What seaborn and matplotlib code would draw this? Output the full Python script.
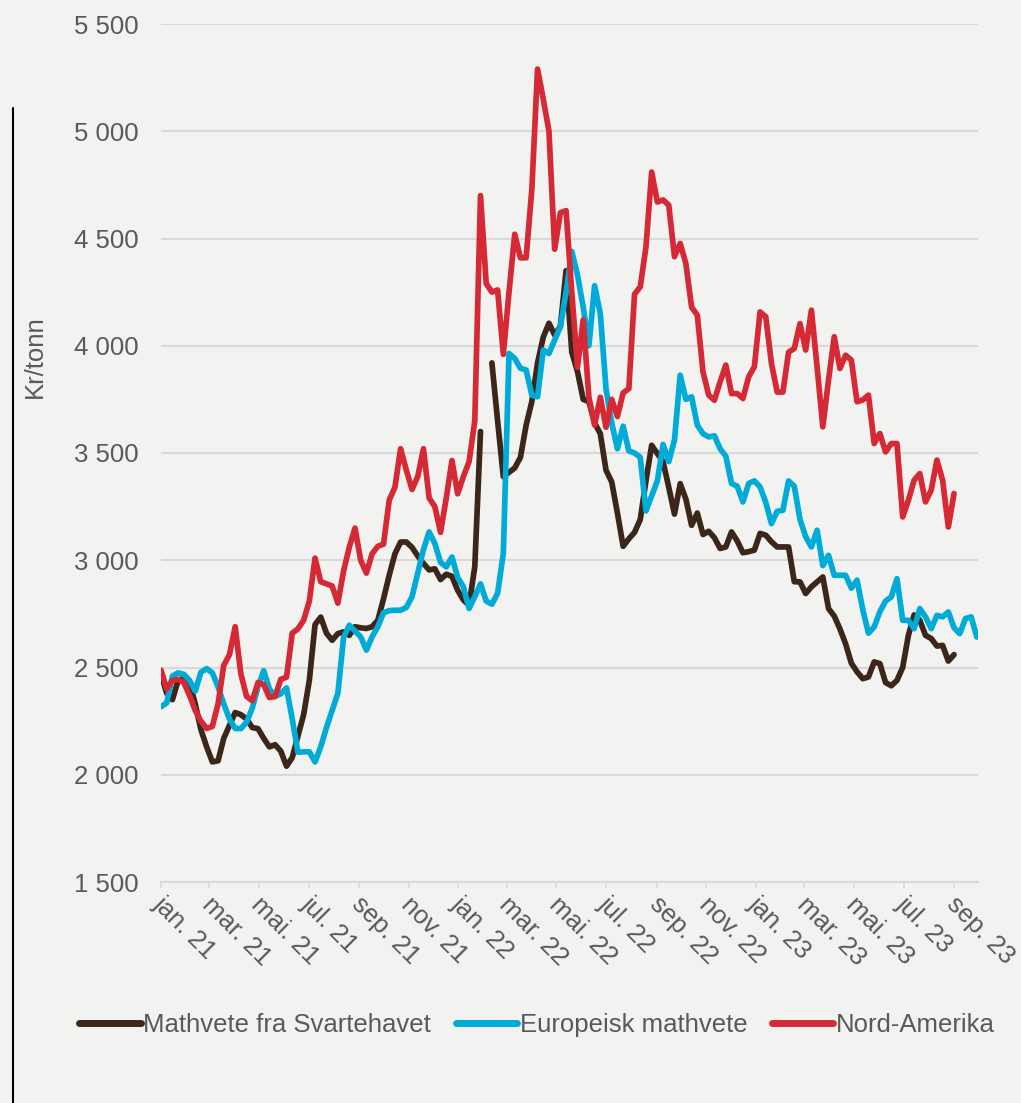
import numpy as np
import pandas as pd
import matplotlib
matplotlib.use("Agg")
import matplotlib.pyplot as plt
import matplotlib.transforms as mtransforms
from matplotlib.lines import Line2D
import seaborn as sns

# === Data: ukentlige priser, kr/tonn (jan. 2021 - sep. 2023) ===
nan = np.nan
uker = pd.date_range("2021-01-01", periods=144, freq="7D")

svartehavet = [
    2470, 2380, 2350, 2440, 2450, 2430, 2330, 2210, 2130, 2060,
    2065, 2170, 2230, 2290, 2280, 2260, 2220, 2215, 2170, 2130,
    2140, 2110, 2040, 2080, 2180, 2280, 2440, 2700, 2735, 2660,
    2627, 2658, 2666, 2650, 2690, 2685, 2682, 2690, 2720, 2820,
    2930, 3030, 3085, 3085, 3060, 3020, 2985, 2955, 2960, 2910,
    2935, 2925, 2860, 2815, 2790, 2970, 3600, nan, 3920, 3650,
    3390, 3410, 3430, 3480, 3630, 3740, 3920, 4040, 4105, 4050,
    4090, 4350, 3970, 3880, 3750, 3740, 3640, 3590, 3420, 3365,
    3220, 3065, 3100, 3130, 3190, 3370, 3536, 3497, 3460, 3340,
    3215, 3357, 3285, 3163, 3220, 3120, 3135, 3105, 3055, 3062,
    3132, 3090, 3035, 3040, 3047, 3125, 3117, 3086, 3062, 3062,
    3062, 2900, 2899, 2845, 2876, 2899, 2922, 2775, 2740, 2680,
    2610, 2520, 2480, 2448, 2456, 2526, 2518, 2430, 2415, 2440,
    2500, 2650, 2745, 2720, 2650, 2635, 2600, 2603, 2530, 2560,
    nan, nan, nan, nan,
]

europeisk = [
    2317, 2335, 2460, 2475, 2468, 2440, 2390, 2478, 2495, 2475,
    2410, 2330, 2260, 2216, 2215, 2245, 2310, 2410, 2485, 2400,
    2365, 2378, 2405, 2260, 2105, 2107, 2107, 2060, 2130, 2220,
    2300, 2380, 2640, 2697, 2670, 2643, 2581, 2643, 2690, 2755,
    2765, 2767, 2767, 2780, 2830, 2940, 3050, 3132, 3078, 2990,
    2969, 3015, 2920, 2876, 2775, 2830, 2890, 2810, 2795, 2846,
    3032, 3964, 3941, 3895, 3887, 3770, 3762, 3980, 3964, 4027,
    4089, 4250, 4440, 4330, 4180, 4000, 4280, 4150, 3800, 3640,
    3520, 3625, 3510, 3500, 3480, 3230, 3300, 3370, 3540, 3460,
    3560, 3863, 3750, 3762, 3630, 3590, 3575, 3580, 3520, 3485,
    3358, 3345, 3272, 3358, 3370, 3342, 3270, 3171, 3228, 3233,
    3370, 3345, 3190, 3110, 3062, 3140, 2975, 3023, 2930, 2930,
    2930, 2870, 2907, 2770, 2660, 2689, 2760, 2810, 2829, 2914,
    2720, 2720, 2681, 2775, 2736, 2681, 2743, 2736, 2759, 2685,
    2658, 2728, 2736, 2642,
]

nord_amerika = [
    2488, 2400, 2440, 2445, 2430, 2370, 2300, 2250, 2216, 2225,
    2330, 2510, 2560, 2690, 2470, 2365, 2345, 2430, 2420, 2360,
    2365, 2445, 2455, 2660, 2680, 2720, 2810, 3010, 2900, 2890,
    2880, 2800, 2950, 3060, 3150, 3000, 2940, 3030, 3065, 3075,
    3280, 3340, 3520, 3420, 3330, 3390, 3520, 3290, 3250, 3130,
    3290, 3465, 3310, 3390, 3460, 3650, 4700, 4290, 4250, 4260,
    3960, 4250, 4520, 4410, 4410, 4730, 5290, 5150, 5000, 4450,
    4620, 4630, 4250, 3900, 4120, 3760, 3630, 3760, 3620, 3750,
    3670, 3780, 3800, 4240, 4275, 4460, 4810, 4670, 4680, 4655,
    4415, 4477, 4383, 4180, 4143, 3878, 3770, 3746, 3832, 3910,
    3777, 3777, 3754, 3855, 3902, 4158, 4135, 3917, 3784, 3784,
    3970, 3987, 4103, 3980, 4166, 3900, 3622, 3840, 4042, 3894,
    3956, 3933, 3739, 3747, 3770, 3544, 3591, 3505, 3544, 3544,
    3202, 3280, 3373, 3404, 3272, 3327, 3467, 3373, 3155, 3311,
    nan, nan, nan, nan,
]

serier = ["Mathvete fra Svartehavet", "Europeisk mathvete", "Nord-Amerika"]
farger = {"Mathvete fra Svartehavet": "#3b2619",
          "Europeisk mathvete": "#00acd7",
          "Nord-Amerika": "#d52a35"}

tekstfarge = "#595959"
bakgrunn = "#f2f2f0"
fs = 18.5

# === Lang tabell, med egne segmenter der data mangler ===
rammer = []
for navn, verdier in zip(serier, [svartehavet, europeisk, nord_amerika]):
    s = pd.Series(verdier, dtype=float)
    d = pd.DataFrame({"Dato": uker, "Kr/tonn": s.values, "Serie": navn,
                      "Enhet": navn + "_" + s.isna().cumsum().astype(str)})
    rammer.append(d.dropna())
df = pd.concat(rammer, ignore_index=True)

# === Figur ===
sns.set_theme(style="white")
plt.rcParams["font.family"] = ["Liberation Sans", "DejaVu Sans"]

fig = plt.figure(figsize=(10.21, 11.03), dpi=100)
fig.patch.set_facecolor(bakgrunn)
ax = fig.add_axes([161 / 1021, 1 - 882 / 1103, (978 - 161) / 1021, (882 - 24) / 1103])
ax.set_facecolor(bakgrunn)

sns.lineplot(data=df, x="Dato", y="Kr/tonn", hue="Serie", units="Enhet",
             estimator=None, hue_order=serier, palette=farger, linewidth=4.1,
             legend=False, ax=ax, solid_joinstyle="round", solid_capstyle="round")

ax.set_ylim(1500, 5500)
yt = np.arange(1500, 5501, 500)
ax.set_yticks(yt)
ax.set_yticklabels([f"{v:,}".replace(",", " ") for v in yt])
ax.set_xlim(uker[0], uker[0] + pd.Timedelta(days=143.2 * 7))

maaneder = {1: "jan.", 3: "mar.", 5: "mai.", 7: "jul.", 9: "sep.", 11: "nov."}
xt = pd.date_range("2021-01-01", "2023-09-01", freq="2MS")
ax.set_xticks(xt)
ax.set_xticklabels([f"{maaneder[d.month]} {d.year % 100}" for d in xt])

ax.set_xlabel("")
ax.set_ylabel("")
ax.yaxis.grid(True, color="#d9d9d9", linewidth=1.5)
ax.xaxis.grid(False)
ax.set_axisbelow(True)
for side in ["left", "top", "right"]:
    ax.spines[side].set_visible(False)
ax.spines["bottom"].set_color("#d9d9d9")
ax.spines["bottom"].set_linewidth(1.5)

ax.tick_params(axis="y", length=0, pad=16, labelsize=fs, labelcolor=tekstfarge)
ax.tick_params(axis="x", length=4.5, width=1.2, color="#d9d9d9", pad=3,
               labelsize=fs, labelcolor=tekstfarge, bottom=True)

forskyv = mtransforms.ScaledTranslation(-12 / 100, 0, fig.dpi_scale_trans)
for lab in ax.get_xticklabels():
    lab.set_rotation(-45)
    lab.set_ha("left")
    lab.set_va("top")
    lab.set_transform(lab.get_transform() + forskyv)

fig.text(35 / 1021, 1 - 357 / 1103, "Kr/tonn", rotation=90, ha="center",
         va="center", fontsize=fs, color=tekstfarge)

# loddrett strek langs venstre kant
fig.add_artist(Line2D([13 / 1021, 13 / 1021], [0, 1 - 108 / 1103],
                      transform=fig.transFigure, color="black", linewidth=1.5))

handles = [Line2D([0], [0], color=farger[n], linewidth=5, solid_capstyle="round")
           for n in serier]
fig.legend(handles, serier, loc="center", bbox_to_anchor=(0.526, 1 - 1025 / 1103),
           ncol=3, frameon=False, fontsize=fs, handlelength=2.4,
           handletextpad=0.1, columnspacing=0.95, labelcolor=tekstfarge)

fig.savefig("out.png", dpi=100, facecolor=fig.get_facecolor())
plt.close(fig)
